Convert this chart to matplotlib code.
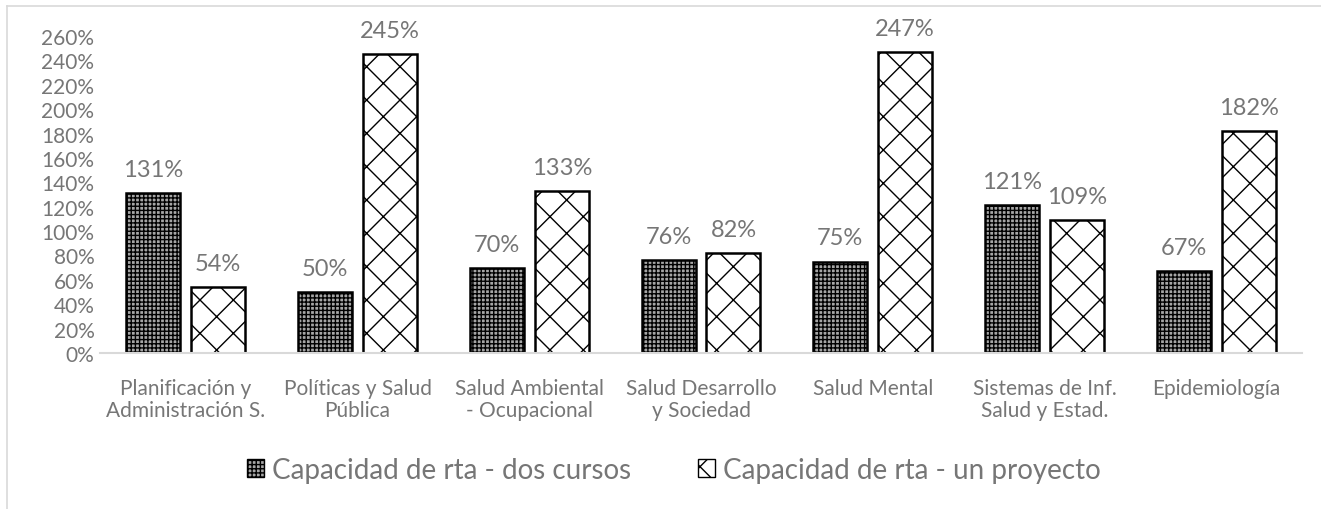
import numpy as np
import matplotlib.pyplot as plt
from matplotlib.lines import Line2D

# datos
areas = ['Planificación y\nAdministración S.', 'Políticas y Salud\nPública',
         'Salud Ambiental\n- Ocupacional', 'Salud Desarrollo\ny Sociedad',
         'Salud Mental', 'Sistemas de Inf.\nSalud y Estad.', 'Epidemiología']
dos_cursos = [131, 50, 70, 76, 75, 121, 67]
un_proyecto = [54, 245, 133, 82, 247, 109, 182]
serie_1 = 'Capacidad de rta - dos cursos'
serie_2 = 'Capacidad de rta - un proyecto'

plt.rcParams['font.family'] = ['Lato', 'DejaVu Sans']
plt.rcParams['hatch.linewidth'] = 1.0
gris = '#767676'

fig = plt.figure(figsize=(13.21, 5.10), dpi=100)
ax = fig.add_axes([100/1321, 1-354/510, 1202/1321, 317/510])

x = np.arange(len(areas))
w = 0.314
off = 0.189
b1 = ax.bar(x - off, dos_cursos, w, color='#a6a6a6', edgecolor='black',
            hatch='++++', linewidth=1.8, label=serie_1)
b2 = ax.bar(x + off, un_proyecto, w, color='white', edgecolor='black',
            hatch='x', linewidth=1.8, label=serie_2)

for bars in (b1, b2):
    for r in bars:
        ax.annotate(f'{r.get_height():.0f}%', (r.get_x() + r.get_width()/2, r.get_height()),
                    xytext=(0, 17), textcoords='offset points', ha='center', va='center',
                    fontsize=17, color=gris, clip_on=False)

ax.set_xlim(-0.5, len(areas) - 0.5)
ax.set_ylim(0, 260)
ax.set_yticks(np.arange(0, 261, 20))
ax.set_yticklabels([f'{v}%' for v in range(0, 261, 20)])
ax.set_xticks(x)
ax.set_xticklabels(areas, linespacing=1.15)
ax.tick_params(axis='both', length=0, labelsize=15, labelcolor=gris)
ax.tick_params(axis='x', pad=18)
ax.tick_params(axis='y', pad=4)
for s in ['top', 'right', 'left']:
    ax.spines[s].set_visible(False)
ax.spines['bottom'].set_color('#d9d9d9')
ax.spines['bottom'].set_linewidth(1.5)

leg = fig.legend(loc='center', bbox_to_anchor=(674/1321, 1-471/510), ncol=2, frameon=False,
                 fontsize=20, labelcolor=gris, handlelength=0.6, handleheight=0.6,
                 handletextpad=0.3, columnspacing=2.4)
for h in leg.legend_handles:
    h.set_linewidth(1.0)

# borde del area del grafico
fig.add_artist(Line2D([7/1321, 7/1321], [0, 1-7/510], color='#d9d9d9', lw=1.2))
fig.add_artist(Line2D([7/1321, 1], [1-7/510, 1-7/510], color='#d9d9d9', lw=1.2))

fig.savefig('out.png', dpi=100)
